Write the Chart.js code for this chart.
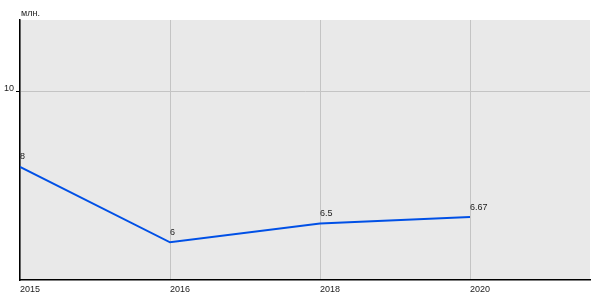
<!DOCTYPE html>
<html><head><meta charset="utf-8">
<script src="https://cdn.jsdelivr.net/npm/chart.js@4/dist/chart.umd.min.js"></script>
<style>html,body{margin:0;padding:0;background:#fff}#wrap{width:600px;height:300px}</style>
</head><body><div id="wrap"><canvas id="c" width="600" height="300"></canvas></div>
<script>
const categories = ['2015', '2016', '2018', '2020'];
const values = [8, 6, 6.5, 6.67];
const valueLabels = ['8', '6', '6.5', '6.67'];
const yTicks = [10];
const unitLabel = 'млн.';

const FONT = 'Arial, "Liberation Sans", sans-serif';

const bgPlugin = {
  id: 'bg',
  beforeDraw(chart) {
    const a = chart.chartArea, ctx = chart.ctx;
    ctx.save(); ctx.fillStyle = '#e9e9e9';
    ctx.fillRect(a.left, a.top, a.right - a.left, a.bottom - a.top);
    ctx.restore();
  },
  afterDraw(chart) {
    const a = chart.chartArea, ctx = chart.ctx;
    ctx.save(); ctx.fillStyle = '#222'; ctx.font = '9px ' + FONT;
    ctx.textAlign = 'left'; ctx.textBaseline = 'middle';
    ctx.fillText(unitLabel, a.left + 1, a.top - 6);
    ctx.restore();
  }
};
const labelPlugin = {
  id: 'vlabels',
  afterDatasetsDraw(chart) {
    const meta = chart.getDatasetMeta(0), ctx = chart.ctx;
    ctx.save(); ctx.fillStyle = '#222'; ctx.font = '9px ' + FONT;
    ctx.textAlign = 'left'; ctx.textBaseline = 'middle';
    meta.data.forEach((p, i) => ctx.fillText(valueLabels[i], p.x, p.y - 10));
    ctx.restore();
  }
};

new Chart(document.getElementById('c'), {
  type: 'line',
  data: {
    datasets: [{
      data: values.map((v, i) => ({x: i, y: v})),
      borderColor: '#0050e6', borderWidth: 2, pointRadius: 0, tension: 0, fill: false
    }]
  },
  options: {
    responsive: false, animation: false, devicePixelRatio: 1,
    layout: {padding: {top: 20, right: 10, left: 0, bottom: 0}},
    plugins: {legend: {display: false}, tooltip: {enabled: false}},
    scales: {
      x: {
        type: 'linear', min: 0, max: 3.8,
        afterBuildTicks: s => { s.ticks = categories.map((c, i) => ({value: i})); },
        afterFit: s => { s.height = 20; },
        grid: {color: '#c4c4c4', drawTicks: false, lineWidth: 1},
        border: {color: '#000', width: 1.5},
        ticks: {
          callback: (v) => categories[v] ?? '',
          align: 'start', maxRotation: 0, autoSkip: false, padding: 4,
          color: '#222', font: {size: 9, family: FONT}
        }
      },
      y: {
        min: 5, max: 11.9,
        afterBuildTicks: s => { s.ticks = yTicks.map(v => ({value: v})); },
        afterFit: s => { s.width = 20; },
        grid: {color: '#c4c4c4', tickColor: '#000', tickLength: 4, lineWidth: 1},
        border: {color: '#000', width: 1.5},
        ticks: {
          labelOffset: -3, padding: 2, color: '#222',
          font: {size: 9, family: FONT}
        }
      }
    }
  },
  plugins: [bgPlugin, labelPlugin]
});
</script></body></html>
